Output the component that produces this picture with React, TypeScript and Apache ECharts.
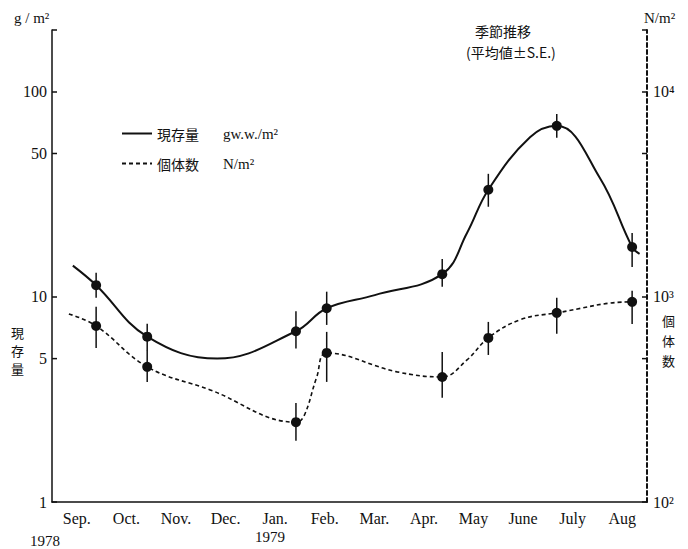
import React, { useEffect, useRef } from "react";
import * as echarts from "echarts";

// Month categories (Sep 1978 – Aug 1979)
const months = ["Sep.", "Oct.", "Nov.", "Dec.", "Jan.", "Feb.", "Mar.", "Apr.", "May", "June", "July", "Aug"];

// Sampling dates (months since 1 Sep 1978)
const sampleX = [0.89, 1.92, 4.92, 5.54, 7.87, 8.8, 10.18, 11.7];
// Biomass g w.w./m² (mean, mean - SE, mean + SE)
const biomassMean = [11.4, 6.4, 6.8, 8.8, 12.9, 33.3, 68.2, 17.5];
const biomassLow = [9.9, 5.5, 5.6, 7.3, 11.2, 27.5, 59.7, 14.0];
const biomassHigh = [13.1, 7.4, 8.5, 10.6, 15.3, 39.8, 78, 20.5];
// Density N/m²
const densityMean = [722, 456, 245, 533, 407, 631, 836, 946];
const densityLow = [564, 385, 199, 385, 322, 521, 661, 738];
const densityHigh = [894, 551, 304, 675, 539, 755, 989, 1070];

// Hand-drawn trend curves
const biomassCurveX = [0.42, 0.89, 1.92, 3.33, 4.92, 5.54, 6.51, 7.87, 8.37, 8.8, 9.64, 10.18, 11.05, 11.7, 11.85];
const biomassCurveY = [14.2, 11.4, 6.4, 5.0, 6.8, 8.8, 10.2, 12.9, 20.5, 33.3, 60, 68.2, 38, 17.5, 16.2];
const densityCurveX = [0.34, 0.89, 1.92, 3.19, 4.92, 5.08, 5.34, 5.54, 6.96, 7.87, 8.37, 8.8, 9.44, 10.18, 11.7, 11.82];
const densityCurveY = [826, 722, 456, 352, 245, 262, 407, 533, 431, 407, 493, 631, 773, 836, 946, 925];

// Extra axis ticks
const leftMinorTicks = [5, 50];
const rightMinorTicks = [500, 5000];

const INK = "#111";
const SERIF = "'Liberation Serif', serif";
const CJK = "'Noto Sans CJK JP', sans-serif";

const sup: Record<number, string> = { 2: "²", 3: "³", 4: "⁴" };
const isPow10 = (v: number) => Math.abs(Math.log10(v) - Math.round(Math.log10(v))) < 1e-6;

export default function App() {
  const ref = useRef<HTMLDivElement>(null);
  useEffect(() => {
    if (!ref.current) return;
    const chart = echarts.init(ref.current, undefined, { renderer: "svg" });

    const errorBars = (low: number[], high: number[]) =>
      sampleX.map((x, i) => [x, low[i], high[i]]);

    const errRender = (params: any, api: any) => {
      const p1 = api.coord([api.value(0), api.value(1)]);
      const p2 = api.coord([api.value(0), api.value(2)]);
      return {
        type: "line",
        shape: { x1: p1[0], y1: p1[1], x2: p2[0], y2: p2[1] },
        style: { stroke: INK, lineWidth: 1.5 },
      };
    };

    const vText = (ch: string, left: number, top: number) => ({
      type: "text",
      left,
      top,
      style: { text: ch, fontFamily: CJK, fontSize: 13, fill: INK },
    });

    chart.setOption({
      animation: false,
      backgroundColor: "#fff",
      textStyle: { fontFamily: SERIF },
      grid: { left: 52, right: 41, top: 30, bottom: 47 },
      legend: {
        left: 116,
        top: 121,
        orient: "vertical",
        itemWidth: 30,
        itemHeight: 12,
        itemGap: 15,
        itemStyle: { opacity: 0 },
        data: ["現存量", "個体数"],
        formatter: (name: string) =>
          name === "現存量" ? "{a|現存量}{b|gw.w./m²}" : "{a|個体数}{b|N/m²}",
        textStyle: {
          color: INK,
          rich: {
            a: { width: 66, fontFamily: CJK, fontSize: 14, color: INK },
            b: { fontFamily: SERIF, fontSize: 15, color: INK },
          },
        },
      },
      xAxis: [
        {
          type: "category",
          data: months,
          boundaryGap: true,
          axisLine: { lineStyle: { color: INK, width: 1.5 } },
          axisTick: { inside: true, length: 5, lineStyle: { color: INK, width: 1.5 } },
          axisLabel: { color: INK, fontFamily: SERIF, fontSize: 16, margin: 8 },
          splitLine: { show: false },
        },
        { type: "value", min: 0, max: 12, show: false },
      ],
      yAxis: [
        {
          type: "log",
          logBase: 10,
          min: 1,
          max: 200,
          axisLine: { show: true, lineStyle: { color: INK, width: 1.5 } },
          axisTick: { show: true, inside: true, length: 5, lineStyle: { color: INK, width: 1.5 } },
          axisLabel: {
            color: INK,
            fontFamily: SERIF,
            fontSize: 16,
            margin: 5,
            formatter: (v: number) => (isPow10(v) && v <= 100 ? String(Math.round(v)) : ""),
          },
          splitLine: { show: false },
        },
        {
          type: "log",
          logBase: 10,
          min: 100,
          max: 20000,
          position: "right",
          axisLine: { show: true, lineStyle: { color: INK, width: 2, type: [4, 3] } },
          axisTick: { show: true, inside: true, length: 5, lineStyle: { color: INK, width: 1.5 } },
          axisLabel: {
            color: INK,
            fontFamily: SERIF,
            fontSize: 16,
            margin: 6,
            formatter: (v: number) => {
              const e = Math.round(Math.log10(v));
              return isPow10(v) && e <= 4 ? "10" + sup[e] : "";
            },
          },
          splitLine: { show: false },
        },
      ],
      series: [
        {
          name: "現存量",
          type: "line",
          xAxisIndex: 1,
          yAxisIndex: 0,
          data: biomassCurveX.map((x, i) => [x, biomassCurveY[i]]),
          smooth: 0.4,
          symbol: "none",
          lineStyle: { color: INK, width: 2 },
          itemStyle: { color: INK },
          z: 3,
        },
        {
          name: "個体数",
          type: "line",
          xAxisIndex: 1,
          yAxisIndex: 1,
          data: densityCurveX.map((x, i) => [x, densityCurveY[i]]),
          smooth: 0.4,
          symbol: "none",
          lineStyle: { color: INK, width: 1.6, type: [4, 3] },
          itemStyle: { color: INK },
          z: 3,
        },
        {
          name: "biomassSE",
          type: "custom",
          xAxisIndex: 1,
          yAxisIndex: 0,
          renderItem: errRender,
          encode: { x: 0, y: [1, 2] },
          data: errorBars(biomassLow, biomassHigh),
          clip: false,
          z: 4,
        },
        {
          name: "densitySE",
          type: "custom",
          xAxisIndex: 1,
          yAxisIndex: 1,
          renderItem: errRender,
          encode: { x: 0, y: [1, 2] },
          data: errorBars(densityLow, densityHigh),
          clip: false,
          z: 4,
        },
        {
          name: "biomassMean",
          type: "scatter",
          xAxisIndex: 1,
          yAxisIndex: 0,
          data: sampleX.map((x, i) => [x, biomassMean[i]]),
          symbol: "circle",
          symbolSize: 10,
          itemStyle: { color: INK, opacity: 1 },
          z: 5,
        },
        {
          name: "densityMean",
          type: "scatter",
          xAxisIndex: 1,
          yAxisIndex: 1,
          data: sampleX.map((x, i) => [x, densityMean[i]]),
          symbol: "circle",
          symbolSize: 10,
          itemStyle: { color: INK, opacity: 1 },
          z: 5,
        },
        {
          name: "leftMinor",
          type: "custom",
          xAxisIndex: 1,
          yAxisIndex: 0,
          clip: false,
          data: leftMinorTicks.map((v) => [0, v]),
          encode: { x: 0, y: 1 },
          renderItem: (params: any, api: any) => {
            const v = api.value(1);
            const p = api.coord([api.value(0), v]);
            return {
              type: "group",
              children: [
                {
                  type: "line",
                  shape: { x1: p[0], y1: p[1], x2: p[0] + 5, y2: p[1] },
                  style: { stroke: INK, lineWidth: 1.5 },
                },
                {
                  type: "text",
                  style: {
                    text: String(v),
                    x: p[0] - 5,
                    y: p[1],
                    align: "right",
                    verticalAlign: "middle",
                    fontFamily: SERIF,
                    fontSize: 16,
                    fill: INK,
                  },
                },
              ],
            };
          },
        },
        {
          name: "rightMinor",
          type: "custom",
          xAxisIndex: 1,
          yAxisIndex: 1,
          clip: false,
          data: rightMinorTicks.map((v) => [12, v]),
          encode: { x: 0, y: 1 },
          renderItem: (params: any, api: any) => {
            const p = api.coord([api.value(0), api.value(1)]);
            return {
              type: "line",
              shape: { x1: p[0] - 5, y1: p[1], x2: p[0], y2: p[1] },
              style: { stroke: INK, lineWidth: 1.5 },
            };
          },
        },
      ],
      graphic: [
        { type: "text", left: 14, top: 10, style: { text: "g / m²", fontFamily: SERIF, fontSize: 15, fill: INK } },
        { type: "text", left: 644, top: 10, style: { text: "N/m²", fontFamily: SERIF, fontSize: 15, fill: INK } },
        vText("現", 11, 326),
        vText("存", 11, 344),
        vText("量", 11, 362),
        vText("個", 662, 314),
        vText("体", 662, 334),
        vText("数", 662, 354),
        { type: "text", left: 475, top: 24, style: { text: "季節推移", fontFamily: CJK, fontSize: 14, fill: INK } },
        { type: "text", left: 466, top: 45, style: { text: "(平均値±S.E.)", fontFamily: CJK, fontSize: 14, fill: INK } },
        { type: "text", left: 30, top: 533, style: { text: "1978", fontFamily: SERIF, fontSize: 15, fill: INK } },
        { type: "text", left: 255, top: 529, style: { text: "1979", fontFamily: SERIF, fontSize: 15, fill: INK } },
      ],
    });
    return () => chart.dispose();
  }, []);
  return <div ref={ref} style={{ width: 688, height: 549, position: "absolute", left: 0, top: 0 }} />;
}
